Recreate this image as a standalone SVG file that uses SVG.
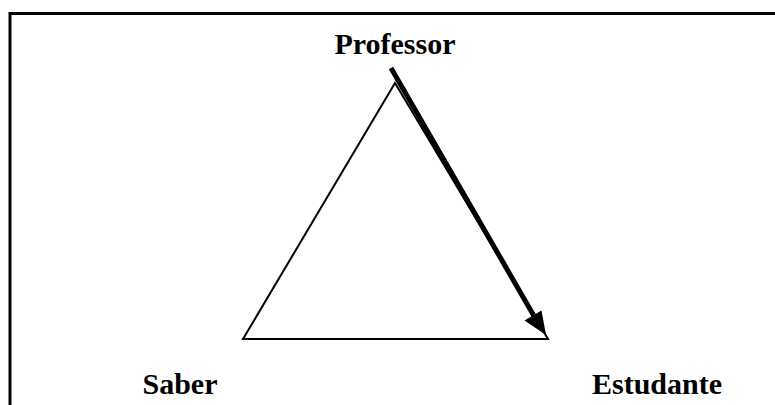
<svg xmlns="http://www.w3.org/2000/svg" width="775" height="405" viewBox="0 0 775 405">
<style>
.lbl{font-family:"Liberation Serif","Times New Roman",serif;font-weight:bold;font-size:30px;fill:#000;text-anchor:middle}
</style>
<rect x="0" y="0" width="775" height="405" fill="#fff"/>
<rect id="frame" x="10" y="13.5" width="800" height="420" fill="none" stroke="#000" stroke-width="3"/>
<g id="triangle">
<polygon points="395,83 243,339 548,339" fill="none" stroke="#000" stroke-width="2"/>
</g>
<g id="professor"><text class="lbl" x="395" y="54">Professor</text></g>
<g id="saber"><text class="lbl" x="180" y="394">Saber</text></g>
<g id="estudante"><text class="lbl" x="657" y="394">Estudante</text></g>
<g id="connectors">
<line x1="391" y1="68" x2="534" y2="316" stroke="#000" stroke-width="5"/>
<polygon points="546,335 524.5,320.5 541.5,310.5" fill="#000"/>
</g>
</svg>
